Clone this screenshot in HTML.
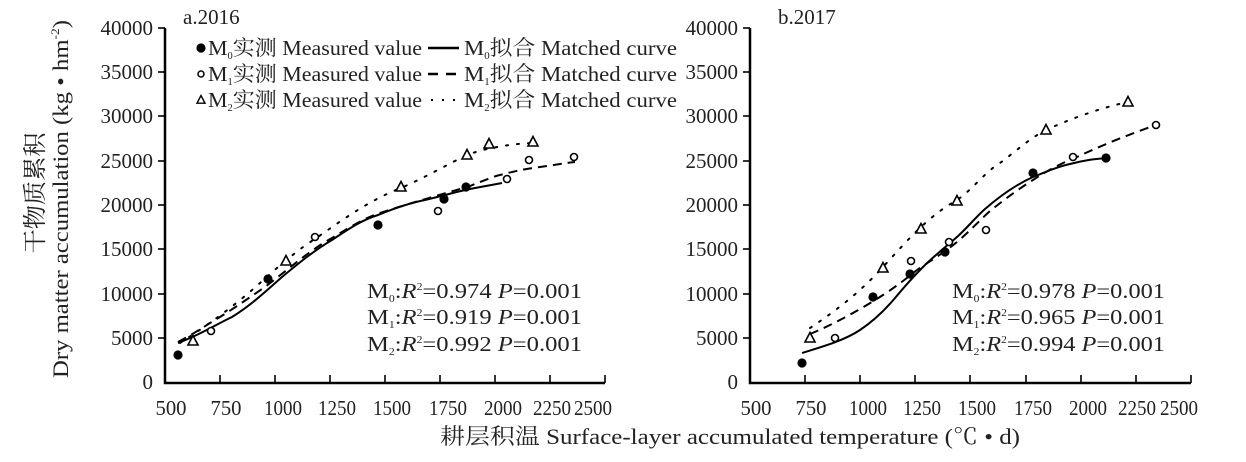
<!DOCTYPE html>
<html><head><meta charset="utf-8"><style>
html,body{margin:0;padding:0;background:#fff;}
svg{display:block;font-family:"Liberation Serif","Noto Serif CJK SC",serif;}
</style></head><body>
<svg width="1246" height="462" viewBox="0 0 1246 462" xmlns="http://www.w3.org/2000/svg">
<defs>
<g id="tri"><polygon points="0,-5.5 5,4 -5,4" fill="#fff" stroke="#000" stroke-width="1.6"/></g>
<g id="oc"><circle r="3.5" fill="#fff" stroke="#000" stroke-width="1.6"/></g>
<g id="fc"><circle r="4.6" fill="#000"/></g>
</defs>
<g fill="#222">
<text transform="translate(43,193) rotate(-90)" text-anchor="middle" font-size="24" textLength="121" lengthAdjust="spacingAndGlyphs">干物质累积</text>
<text transform="translate(68,199) rotate(-90)" text-anchor="middle" font-size="22" textLength="358" lengthAdjust="spacingAndGlyphs">Dry matter accumulation (kg • hm<tspan font-size="12" dy="-9">-2</tspan><tspan dy="9">)</tspan></text>
<text x="730" y="444" text-anchor="middle" font-size="22" textLength="580" lengthAdjust="spacingAndGlyphs">耕层积温 Surface-layer accumulated temperature (℃ • d)</text>
</g>

<!-- LEFT CHART -->
<g stroke="#000" stroke-width="2.5" fill="none">
<polyline points="165,28 165,383 605,383"/>
</g>
<g stroke="#000" stroke-width="1.6">
<line x1="158" y1="28" x2="165" y2="28"/><line x1="158" y1="72" x2="165" y2="72"/><line x1="158" y1="116" x2="165" y2="116"/><line x1="158" y1="161" x2="165" y2="161"/><line x1="158" y1="205" x2="165" y2="205"/><line x1="158" y1="249" x2="165" y2="249"/><line x1="158" y1="294" x2="165" y2="294"/><line x1="158" y1="338" x2="165" y2="338"/>
<line x1="220" y1="375" x2="220" y2="383"/><line x1="275" y1="375" x2="275" y2="383"/><line x1="330" y1="375" x2="330" y2="383"/><line x1="385" y1="375" x2="385" y2="383"/><line x1="440" y1="375" x2="440" y2="383"/><line x1="495" y1="375" x2="495" y2="383"/><line x1="550" y1="375" x2="550" y2="383"/><line x1="605" y1="375" x2="605" y2="383"/>
</g>
<g font-size="21" fill="#222" text-anchor="end">
<text x="153" y="35">40000</text><text x="153" y="79">35000</text><text x="153" y="123">30000</text><text x="153" y="168">25000</text><text x="153" y="212">20000</text><text x="153" y="256">15000</text><text x="153" y="301">10000</text><text x="153" y="345">5000</text><text x="153" y="389">0</text>
</g>
<g font-size="21" fill="#222" text-anchor="middle" lengthAdjust="spacingAndGlyphs">
<text x="171" y="415" textLength="31" lengthAdjust="spacingAndGlyphs">500</text><text x="226" y="415" textLength="31" lengthAdjust="spacingAndGlyphs">750</text><text x="283" y="415" textLength="38" lengthAdjust="spacingAndGlyphs">1000</text><text x="337" y="415" textLength="38" lengthAdjust="spacingAndGlyphs">1250</text><text x="392" y="415" textLength="38" lengthAdjust="spacingAndGlyphs">1500</text><text x="448" y="415" textLength="38" lengthAdjust="spacingAndGlyphs">1750</text><text x="503" y="415" textLength="38" lengthAdjust="spacingAndGlyphs">2000</text><text x="552" y="415" textLength="38" lengthAdjust="spacingAndGlyphs">2250</text><text x="593" y="415" textLength="38" lengthAdjust="spacingAndGlyphs">2500</text>
</g>
<text x="183" y="24" font-size="21" fill="#222">a.2016</text>
<!-- legend -->
<use href="#fc" x="201" y="48"/>
<g transform="translate(201,74)"><circle r="3" fill="#fff" stroke="#000" stroke-width="1.5"/></g>
<g transform="translate(201,100) scale(0.8)"><polygon points="0,-5.5 5,4 -5,4" fill="#fff" stroke="#000" stroke-width="1.8"/></g>
<g font-size="21" fill="#222">
<text x="208" y="55" textLength="214" lengthAdjust="spacingAndGlyphs">M<tspan font-size="10" dy="4">0</tspan><tspan dy="-4">实测 Measured value</tspan></text>
<text x="208" y="81" textLength="214" lengthAdjust="spacingAndGlyphs">M<tspan font-size="10" dy="4">1</tspan><tspan dy="-4">实测 Measured value</tspan></text>
<text x="208" y="107" textLength="214" lengthAdjust="spacingAndGlyphs">M<tspan font-size="10" dy="4">2</tspan><tspan dy="-4">实测 Measured value</tspan></text>
<text x="464" y="55" textLength="213" lengthAdjust="spacingAndGlyphs">M<tspan font-size="10" dy="4">0</tspan><tspan dy="-4">拟合 Matched curve</tspan></text>
<text x="464" y="81" textLength="213" lengthAdjust="spacingAndGlyphs">M<tspan font-size="10" dy="4">1</tspan><tspan dy="-4">拟合 Matched curve</tspan></text>
<text x="464" y="107" textLength="213" lengthAdjust="spacingAndGlyphs">M<tspan font-size="10" dy="4">2</tspan><tspan dy="-4">拟合 Matched curve</tspan></text>
</g>
<line x1="428" y1="48" x2="459" y2="48" stroke="#000" stroke-width="2.4"/>
<line x1="428" y1="74" x2="459" y2="74" stroke="#000" stroke-width="2.4" stroke-dasharray="10,8"/>
<line x1="431" y1="100" x2="459" y2="100" stroke="#000" stroke-width="2" stroke-dasharray="2,9"/>

<!-- left curves -->
<g fill="none" stroke="#000" stroke-width="2">
<path d="M178,343 C200,335 215,325 232,317 C250,306 265,292 282,277 C300,262 315,250 332,240 C350,228 362,220 378,215 C395,208 410,203 425,200 C442,196 452,193 465,190 C480,187 492,185 502,183"/>
<path d="M178,342 C195,333 205,326 215,320 C235,308 250,297 265,287 C290,268 310,250 332,238 C355,224 365,218 380,213 C410,203 440,195 470,186 C485,180 495,176 500,175 C515,171 525,169 540,167 C555,165 565,163 575,162" stroke-dasharray="9,6"/>
<path d="M180,343 C200,330 230,310 260,283 C280,265 300,248 315,239 C345,218 370,200 401,188 C430,175 450,163 467,155 C480,150 505,144 533,143" stroke-dasharray="2,9" stroke-linecap="round"/>
</g>
<g>
<use href="#fc" x="178" y="355"/><use href="#fc" x="268" y="279"/><use href="#fc" x="378" y="225"/><use href="#fc" x="444" y="199"/><use href="#fc" x="466" y="187"/>
<use href="#oc" x="211" y="331"/><use href="#oc" x="315" y="237"/><use href="#oc" x="438" y="211"/><use href="#oc" x="507" y="179"/><use href="#oc" x="529" y="160"/><use href="#oc" x="574" y="157"/>
<use href="#tri" x="193" y="341"/><use href="#tri" x="286" y="261"/><use href="#tri" x="401" y="187"/><use href="#tri" x="467" y="155"/><use href="#tri" x="489" y="144"/><use href="#tri" x="533" y="142"/>
</g>
<g font-size="21" fill="#222">
<text x="367" y="298" textLength="215" lengthAdjust="spacingAndGlyphs">M<tspan font-size="10" dy="4">0</tspan><tspan dy="-4">:</tspan><tspan font-style="italic">R</tspan><tspan font-size="10" dy="-8">2</tspan><tspan dy="8">=0.974 </tspan><tspan font-style="italic">P</tspan>=0.001</text>
<text x="367" y="324" textLength="215" lengthAdjust="spacingAndGlyphs">M<tspan font-size="10" dy="4">1</tspan><tspan dy="-4">:</tspan><tspan font-style="italic">R</tspan><tspan font-size="10" dy="-8">2</tspan><tspan dy="8">=0.919 </tspan><tspan font-style="italic">P</tspan>=0.001</text>
<text x="367" y="351" textLength="215" lengthAdjust="spacingAndGlyphs">M<tspan font-size="10" dy="4">2</tspan><tspan dy="-4">:</tspan><tspan font-style="italic">R</tspan><tspan font-size="10" dy="-8">2</tspan><tspan dy="8">=0.992 </tspan><tspan font-style="italic">P</tspan>=0.001</text>
</g>

<!-- RIGHT CHART -->
<g stroke="#000" stroke-width="2.5" fill="none">
<polyline points="750,28 750,383 1191,383"/>
</g>
<g stroke="#000" stroke-width="1.6">
<line x1="743" y1="28" x2="750" y2="28"/><line x1="743" y1="72" x2="750" y2="72"/><line x1="743" y1="116" x2="750" y2="116"/><line x1="743" y1="161" x2="750" y2="161"/><line x1="743" y1="205" x2="750" y2="205"/><line x1="743" y1="249" x2="750" y2="249"/><line x1="743" y1="294" x2="750" y2="294"/><line x1="743" y1="338" x2="750" y2="338"/>
<line x1="805" y1="375" x2="805" y2="383"/><line x1="860" y1="375" x2="860" y2="383"/><line x1="915" y1="375" x2="915" y2="383"/><line x1="970" y1="375" x2="970" y2="383"/><line x1="1026" y1="375" x2="1026" y2="383"/><line x1="1081" y1="375" x2="1081" y2="383"/><line x1="1136" y1="375" x2="1136" y2="383"/><line x1="1191" y1="375" x2="1191" y2="383"/>
</g>
<g font-size="21" fill="#222" text-anchor="end">
<text x="738" y="35">40000</text><text x="738" y="79">35000</text><text x="738" y="123">30000</text><text x="738" y="168">25000</text><text x="738" y="212">20000</text><text x="738" y="256">15000</text><text x="738" y="301">10000</text><text x="738" y="345">5000</text><text x="738" y="389">0</text>
</g>
<g font-size="21" fill="#222" text-anchor="middle">
<text x="756" y="415" textLength="31" lengthAdjust="spacingAndGlyphs">500</text><text x="811" y="415" textLength="31" lengthAdjust="spacingAndGlyphs">750</text><text x="868" y="415" textLength="38" lengthAdjust="spacingAndGlyphs">1000</text><text x="922" y="415" textLength="38" lengthAdjust="spacingAndGlyphs">1250</text><text x="977" y="415" textLength="38" lengthAdjust="spacingAndGlyphs">1500</text><text x="1033" y="415" textLength="38" lengthAdjust="spacingAndGlyphs">1750</text><text x="1088" y="415" textLength="38" lengthAdjust="spacingAndGlyphs">2000</text><text x="1137" y="415" textLength="38" lengthAdjust="spacingAndGlyphs">2250</text><text x="1179" y="415" textLength="38" lengthAdjust="spacingAndGlyphs">2500</text>
</g>
<text x="778" y="24" font-size="21" fill="#222">b.2017</text>
<g fill="none" stroke="#000" stroke-width="2">
<path d="M802,353 C825,346 845,340 860,330 C875,320 885,310 895,298 C905,286 915,275 923,267 C935,255 948,245 957,237 C967,228 975,218 985,209 C1000,196 1015,185 1033,177 C1048,171 1060,166 1070,164 C1085,160 1095,159 1106,158"/>
<path d="M810,334 C830,326 860,310 883,295 C897,286 907,278 917,270 C930,261 945,252 957,242 C970,231 980,220 990,211 C1005,199 1020,188 1033,180 C1048,170 1062,163 1077,157 C1100,146 1130,134 1156,125" stroke-dasharray="9,6"/>
<path d="M810,328 C840,308 862,290 883,267 C895,254 910,237 921,227 C935,214 945,207 957,200 C972,190 985,172 1000,163 C1015,152 1030,138 1046,130 C1070,119 1100,108 1128,102" stroke-dasharray="2,9" stroke-linecap="round"/>
</g>
<g>
<use href="#fc" x="802" y="363"/><use href="#fc" x="873" y="297"/><use href="#fc" x="910" y="274"/><use href="#fc" x="945" y="252"/><use href="#fc" x="1033" y="173"/><use href="#fc" x="1106" y="158"/>
<use href="#oc" x="835" y="338"/><use href="#oc" x="911" y="261"/><use href="#oc" x="949" y="242"/><use href="#oc" x="986" y="230"/><use href="#oc" x="1073" y="157"/><use href="#oc" x="1156" y="125"/>
<use href="#tri" x="810" y="338"/><use href="#tri" x="883" y="268"/><use href="#tri" x="921" y="229"/><use href="#tri" x="957" y="201"/><use href="#tri" x="1046" y="130"/><use href="#tri" x="1128" y="102"/>
</g>
<g font-size="21" fill="#222">
<text x="952" y="298" textLength="213" lengthAdjust="spacingAndGlyphs">M<tspan font-size="10" dy="4">0</tspan><tspan dy="-4">:</tspan><tspan font-style="italic">R</tspan><tspan font-size="10" dy="-8">2</tspan><tspan dy="8">=0.978 </tspan><tspan font-style="italic">P</tspan>=0.001</text>
<text x="952" y="324" textLength="213" lengthAdjust="spacingAndGlyphs">M<tspan font-size="10" dy="4">1</tspan><tspan dy="-4">:</tspan><tspan font-style="italic">R</tspan><tspan font-size="10" dy="-8">2</tspan><tspan dy="8">=0.965 </tspan><tspan font-style="italic">P</tspan>=0.001</text>
<text x="952" y="351" textLength="213" lengthAdjust="spacingAndGlyphs">M<tspan font-size="10" dy="4">2</tspan><tspan dy="-4">:</tspan><tspan font-style="italic">R</tspan><tspan font-size="10" dy="-8">2</tspan><tspan dy="8">=0.994 </tspan><tspan font-style="italic">P</tspan>=0.001</text>
</g>
</svg>
</body></html>
